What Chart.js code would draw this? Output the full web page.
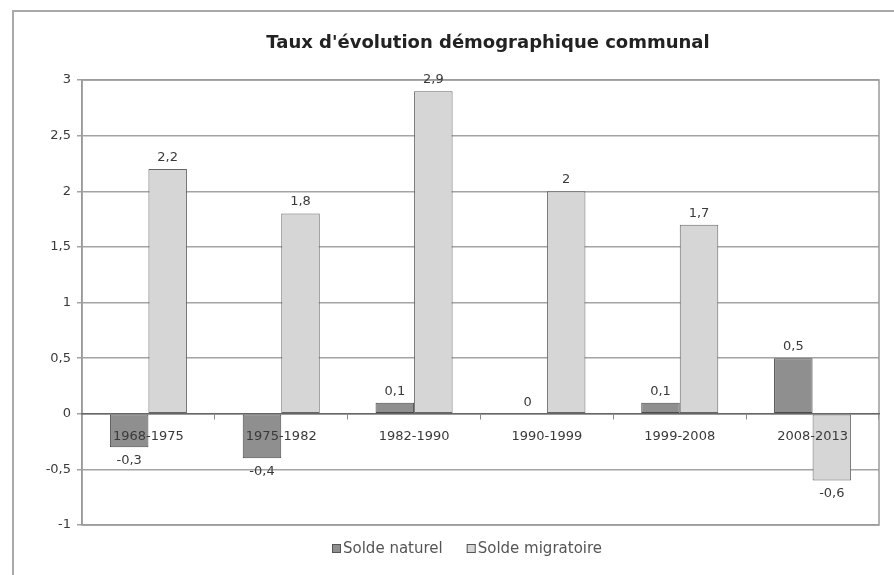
<!DOCTYPE html>
<html>
<head>
<meta charset="utf-8">
<script src="https://cdn.jsdelivr.net/npm/chart.js@4"></script>
<style>
 body { margin: 0; background: #fff; }
 #wrap { position: relative; width: 894px; height: 575px; overflow: hidden; }
 #cadre { position: absolute; left: 12px; top: 10px; width: 900px; height: 600px;
   border-top: 2px solid #a9a9a9; border-left: 2px solid #a9a9a9; }
 canvas { position: absolute; left: 0; top: 0; }
</style>
</head>
<body>
<div id="wrap">
 <div id="cadre"></div>
 <canvas id="miGrafico" width="894" height="575"></canvas>
</div>
<script>
// donnees
const periodes = ['1968-1975', '1975-1982', '1982-1990', '1990-1999', '1999-2008', '2008-2013'];
const soldeNaturel = [-0.3, -0.4, 0.1, 0, 0.1, 0.5];
const soldeMigratoire = [2.2, 1.8, 2.9, 2, 1.7, -0.6];
const titre = "Taux d'évolution démographique communal";

const police = '"DejaVu Sans", Verdana, sans-serif';
const virgule = v => String(v).replace('.', ',');

// valeurs au dessus / en dessous des barres
const etiquettes = {
 id: 'etiquettes',
 afterDatasetsDraw(chart) {
  const c = chart.ctx;
  c.save();
  c.font = '13px ' + police;
  c.fillStyle = '#3a3a3a';
  c.textAlign = 'center';
  chart.data.datasets.forEach((ds, i) => {
   chart.getDatasetMeta(i).data.forEach((barre, j) => {
    const v = ds.data[j];
    if (v >= 0) {
     c.textBaseline = 'bottom';
     c.fillText(virgule(v), barre.x, barre.y - 5);
    } else {
     c.textBaseline = 'top';
     c.fillText(virgule(v), barre.x, barre.y + 7);
    }
   });
  });
  c.restore();
 }
};

// cadre de la zone de tracé, titre et légende
const decor = {
 id: 'decor',
 beforeDatasetsDraw(chart) {
  const a = chart.chartArea, c = chart.ctx;
  c.save();
  c.strokeStyle = '#9a9a9a';
  c.lineWidth = 1.5;
  c.strokeRect(a.left, a.top, a.right - a.left, a.bottom - a.top);
  c.restore();
 },
 afterDraw(chart) {
  const c = chart.ctx;
  c.save();
  c.fillStyle = '#222';
  c.font = 'bold 18px ' + police;
  c.textAlign = 'center';
  c.textBaseline = 'middle';
  c.fillText(titre, 488, 43);

  c.font = '15px ' + police;
  c.textAlign = 'left';
  let x = 332;
  chart.data.datasets.forEach(ds => {
   c.fillStyle = ds.backgroundColor;
   c.strokeStyle = '#555';
   c.lineWidth = 1;
   c.fillRect(x, 544, 9, 9);
   c.strokeRect(x + 0.5, 544.5, 8, 8);
   c.fillStyle = '#555';
   c.fillText(ds.label, x + 11, 549);
   x += c.measureText(ds.label).width + 11 + 24;
  });
  c.restore();
 }
};

var ctx = document.getElementById('miGrafico').getContext('2d');

var chart = new Chart(ctx, {
 type: 'bar',
 data: {
  labels: periodes,
  datasets: [{
   label: 'Solde naturel',
   backgroundColor: '#8f8f8f',
   borderColor: '#4a4a4a',
   borderWidth: 1,
   borderSkipped: false,
   data: soldeNaturel
  },
  {
   label: 'Solde migratoire',
   backgroundColor: '#d6d6d6',
   borderColor: '#666',
   borderWidth: 1,
   borderSkipped: false,
   data: soldeMigratoire
  }]
 },
 options: {
  responsive: false,
  animation: false,
  layout: { padding: { left: 14, right: 15, top: 80, bottom: 50 } },
  datasets: { bar: { categoryPercentage: 0.58, barPercentage: 1 } },
  plugins: {
   legend: { display: false },
   title: { display: false },
   tooltip: { enabled: false }
  },
  scales: {
   x: {
    position: { y: 0 },
    grid: { drawOnChartArea: false, drawTicks: true, tickLength: 5, color: '#888', offset: true },
    border: { color: '#666', width: 1.5, z: 1 },
    ticks: { z: 1, color: '#3a3a3a', font: { family: police, size: 13 }, padding: 10, autoSkip: false, maxRotation: 0 }
   },
   y: {
    min: -1,
    max: 3,
    afterFit(s) { s.width = 68; },
    grid: { color: '#a3a3a3', lineWidth: 1.5, tickLength: 5 },
    border: { color: '#9a9a9a', width: 1.5 },
    ticks: {
     stepSize: 0.5,
     color: '#3a3a3a',
     font: { family: police, size: 13 },
     padding: 6,
     callback: v => virgule(v)
    }
   }
  }
 },
 plugins: [etiquettes, decor]
});
</script>
</body>
</html>
